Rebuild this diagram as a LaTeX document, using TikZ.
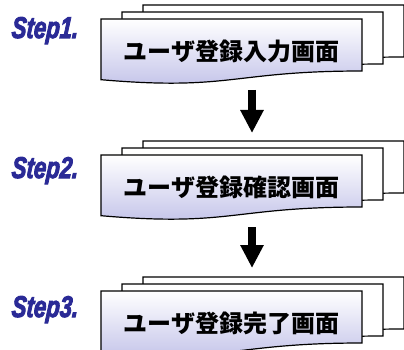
\documentclass[tikz,border=0pt]{standalone}
\usepackage{fontspec}
\newfontfamily\jpfont{Noto Sans CJK JP}
\newfontfamily\stepfont{Liberation Sans}[BoldItalicFeatures={FakeBold=3.5,FakeSlant=0.1}]
\usetikzlibrary{arrows.meta}
\definecolor{stepblue}{RGB}{42,42,150}
\definecolor{pagelilac}{RGB}{192,192,232}
\tikzset{x=1pt, y=1pt,
  page/.style={draw=black, line width=1.2pt, fill=white},
  frontpage/.style={page, top color=white, bottom color=pagelilac},
  steplabel/.style={anchor=base west, inner sep=0pt, text=stepblue,
    font=\stepfont\bfseries\itshape\fontsize{30}{30}\selectfont},
  title/.style={inner sep=0pt, font=\jpfont\bfseries\fontsize{24}{24}\selectfont},
  flow/.style={line width=8pt, -{Triangle[width=22pt,length=23pt]}}}

% one document page, top left corner at (#2,-#3)
\newcommand\docpage[3]{%
  \draw[#1] (#2,{-(#3)}) -- ({#2+261},{-(#3)}) -- ({#2+261},{-(#3)-52})
    .. controls ({#2+130.5},{-(#3)-52}) and ({#2+130.5},{-(#3)-72}) .. (#2,{-(#3)-60.7}) -- cycle;}
% a stack of three pages
\newcommand\docstack[1]{%
  \docpage{page}{143}{#1-14}
  \docpage{page}{122}{#1-7}
  \docpage{frontpage}{101}{#1}}
\newcommand\stepname[1]{\scalebox{.74}[1]{#1}}

\begin{document}
\begin{tikzpicture}
  \useasboundingbox (0,0) rectangle (404,-350);

  \docstack{19}
  \docstack{155}
  \docstack{291}

  \node[steplabel] (s1) at (11,-38) {\stepname{Step1.}};
  \node[steplabel] (s2) at (11,-178) {\stepname{Step2.}};
  \node[steplabel] (s3) at (11,-317) {\stepname{Step3.}};

  \node[title] (t1) at (231.5,-51) {ユーザ登録入力画面};
  \node[title] (t2) at (231.5,-187) {ユーザ登録確認画面};
  \node[title] (t3) at (231.5,-323) {ユーザ登録完了画面};

  \coordinate (a1) at (252,-90);
  \coordinate (b1) at (252,-133);
  \coordinate (a2) at (252,-227);
  \coordinate (b2) at (252,-268);
  \draw[flow] (a1) -- (b1);
  \draw[flow] (a2) -- (b2);

\end{tikzpicture}
\end{document}
